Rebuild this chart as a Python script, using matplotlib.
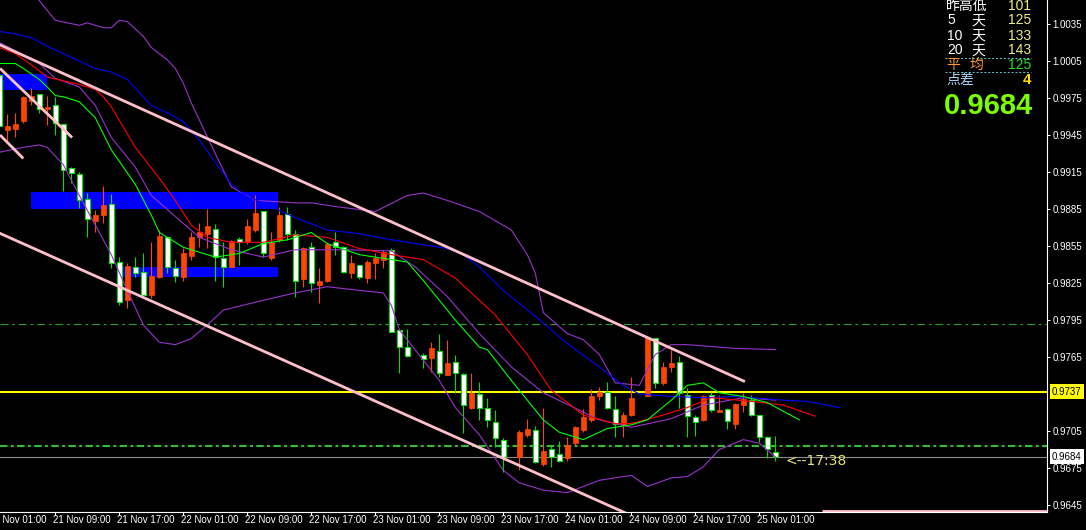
import matplotlib
matplotlib.use("Agg")
import matplotlib.pyplot as plt
from matplotlib.lines import Line2D

plt.rcParams['font.family'] = ['Liberation Sans', 'Noto Sans CJK SC', 'DejaVu Sans']

W, H = 1086, 530

# hourly candles, bar 0 = 21 Nov 02:00 ; None = no bar drawn
OPEN = [0.9994, 0.9949, 0.9950, 0.9956, 0.9973, 0.9978, 0.9966, 0.9969, 0.9954, 0.9918,
        0.9913, 0.9893, 0.9875, 0.9880, 0.9889, 0.9842, 0.9811, 0.9838, 0.9834, 0.9815,
        0.9830, 0.9862, 0.9837, 0.9830, 0.9847, 0.9862, 0.9865, 0.9869, 0.9845, 0.9838,
        0.9861, 0.9858, 0.9868, 0.9883, 0.9845, 0.9860, 0.9881, 0.9865, 0.9828, 0.9854,
        0.9823, 0.9827, 0.9858, 0.9854, 0.9833, 0.9840, 0.9829, 0.9841, 0.9844, 0.9852,
        0.9787, 0.9773, None, 0.9767, 0.9764, 0.9770, 0.9750, 0.9761, 0.9751, 0.9724,
        0.9735, 0.9724, 0.9712, 0.9698, None, 0.9684, 0.9702, 0.9706, 0.9678, 0.9690,
        0.9686, 0.9683, 0.9695, 0.9706, 0.9714, 0.9733, 0.9737, 0.9723, 0.9710, 0.9718,
        None, 0.9733, 0.9780, 0.9744, 0.9757, 0.9761, 0.9734, 0.9716, 0.9714, 0.9734,
        0.9720, 0.9723, 0.9711, 0.9726, 0.9730, 0.9718, 0.9700, 0.9688]
HIGH = [0.9995, 0.9962, 0.9963, 0.9977, 0.9983, 0.9978, 0.9977, 0.9976, 0.9954, 0.9919,
        0.9915, 0.9898, 0.9884, 0.9904, 0.9897, 0.9846, 0.9841, 0.9846, 0.9849, 0.9858,
        0.9868, 0.9862, 0.9844, 0.9853, 0.9866, 0.9874, 0.9885, 0.9873, 0.9858, 0.9860,
        0.9862, 0.9877, 0.9896, 0.9883, 0.9866, 0.9887, 0.9887, 0.9868, 0.9854, 0.9858,
        0.9837, 0.9858, 0.9866, 0.9855, 0.9848, 0.9840, 0.9844, 0.9849, 0.9852, 0.9853,
        0.9788, 0.9788, None, 0.9768, 0.9777, 0.9784, 0.9779, 0.9767, 0.9752, 0.9752,
        0.9745, 0.9732, 0.9722, 0.9699, None, 0.9706, 0.9715, 0.9709, 0.9724, 0.9693,
        0.9697, 0.9700, 0.9709, 0.9723, 0.9739, 0.9741, 0.9745, 0.9733, 0.9720, 0.9749,
        None, 0.9780, 0.9780, 0.9761, 0.9771, 0.9766, 0.9740, 0.9718, 0.9734, 0.9737,
        0.9734, 0.9724, 0.9728, 0.9736, 0.9734, 0.9718, 0.9701, 0.9701]
LOW = [0.9949, 0.9939, 0.9943, 0.9955, 0.9969, 0.9963, 0.9953, 0.9945, 0.9900, 0.9906,
       0.9886, 0.9862, 0.9866, 0.9874, 0.9837, 0.9807, 0.9805, 0.9830, 0.9814, 0.9813,
       0.9829, 0.9833, 0.9826, 0.9827, 0.9844, 0.9854, 0.9853, 0.9827, 0.9822, 0.9838,
       0.9840, 0.9857, 0.9866, 0.9846, 0.9844, 0.9858, 0.9860, 0.9814, 0.9822, 0.9818,
       0.9809, 0.9826, 0.9848, 0.9833, 0.9829, 0.9828, 0.9825, 0.9828, 0.9837, 0.9785,
       0.9752, 0.9765, None, 0.9756, 0.9753, 0.9749, 0.9750, 0.9736, 0.9703, 0.9723,
       0.9714, 0.9708, 0.9692, 0.9672, None, 0.9673, 0.9700, 0.9679, 0.9677, 0.9676,
       0.9680, 0.9681, 0.9694, 0.9704, 0.9712, 0.9730, 0.9723, 0.9700, 0.9700, 0.9717,
       None, 0.9733, 0.9740, 0.9742, 0.9753, 0.9724, 0.9700, 0.9701, 0.9713, 0.9720,
       0.9720, 0.9707, 0.9707, 0.9720, 0.9717, 0.9696, 0.9683, 0.9681]
CLOSE = [0.9952, 0.9952, 0.9954, 0.9976, 0.9977, 0.9966, 0.9968, 0.9955, 0.9917, 0.9914,
         0.9892, 0.9877, 0.9880, 0.9888, 0.9841, 0.9810, 0.9839, 0.9833, 0.9815, 0.9831,
         0.9863, 0.9838, 0.9831, 0.9849, 0.9862, 0.9866, 0.9871, 0.9846, 0.9838, 0.9859,
         0.9858, 0.9871, 0.9882, 0.9849, 0.9858, 0.9880, 0.9865, 0.9827, 0.9853, 0.9825,
         0.9827, 0.9857, 0.9854, 0.9834, 0.9841, 0.9830, 0.9842, 0.9845, 0.9850, 0.9785,
         0.9773, 0.9766, None, 0.9763, 0.9772, 0.9752, 0.9760, 0.9752, 0.9726, 0.9736,
         0.9724, 0.9714, 0.9699, 0.9684, None, 0.9704, 0.9707, 0.9680, 0.9689, 0.9684,
         0.9681, 0.9694, 0.9708, 0.9716, 0.9733, 0.9737, 0.9724, 0.9711, 0.9718, 0.9732,
         None, 0.9780, 0.9744, 0.9757, 0.9760, 0.9736, 0.9717, 0.9712, 0.9733, 0.9722,
         0.9722, 0.9713, 0.9727, 0.9731, 0.9718, 0.9700, 0.9690, 0.9684]

# Alligator lines (shifted forward) and Bollinger bands, read at sample bars
JAW_X = [0, 2, 4, 6, 8, 10, 12, 14, 16, 19, 21, 23, 25, 27, 29, 31, 33, 37, 41, 45, 49,
         56, 58, 60, 63, 67, 71, 75, 78, 80, 84, 88, 92, 98, 101, 105]
JAW_Y = [1.0029, 1.0027, 1.0024, 1.0017, 1.0011, 1.0005, 0.9999, 0.9996, 0.9990, 0.9969,
         0.9963, 0.9956, 0.9941, 0.9923, 0.9905, 0.9895, 0.9890, 0.9878, 0.9868, 0.9865,
         0.9860, 0.9853, 0.9848, 0.9838, 0.9819, 0.9798, 0.9776, 0.9757, 0.9742, 0.9735,
         0.9733, 0.9732, 0.9733, 0.9730, 0.9729, 0.9724]
TEETH_X = [0, 2, 4, 6, 8, 10, 12, 13, 14, 15, 17, 20, 22, 24, 26, 29, 33, 37, 41, 45, 49,
           53, 57, 62, 66, 69, 73, 77, 79, 83, 86, 89, 94, 98, 102]
TEETH_Y = [1.0016, 1.0011, 1.0002, 0.9992, 0.9989, 0.9986, 0.9982, 0.9976, 0.9968, 0.9957,
           0.9935, 0.9910, 0.9892, 0.9872, 0.9862, 0.9858, 0.9858, 0.9864, 0.9862, 0.9853,
           0.9848, 0.9844, 0.9829, 0.9799, 0.9767, 0.9738, 0.9718, 0.9711, 0.9711, 0.9718,
           0.9724, 0.9732, 0.9729, 0.9726, 0.9717]
LIPS_X = [0, 2, 3, 5, 6, 7, 8, 10, 12, 14, 17, 19, 20, 23, 27, 30, 33, 36, 39, 41, 45, 48,
          51, 53, 57, 60, 61, 64, 66, 68, 70, 73, 76, 79, 81, 84, 86, 88, 90, 93, 96, 100]
LIPS_Y = [1.0003, 1.0003, 0.9999, 0.9990, 0.9984, 0.9977, 0.9976, 0.9972, 0.9959, 0.9933,
          0.9905, 0.9880, 0.9866, 0.9854, 0.9846, 0.9849, 0.9857, 0.9860, 0.9866, 0.9857,
          0.9848, 0.9845, 0.9842, 0.9827, 0.9795, 0.9773, 0.9771, 0.9746, 0.9730, 0.9714,
          0.9704, 0.9698, 0.9707, 0.9710, 0.9714, 0.9730, 0.9742, 0.9744, 0.9736, 0.9733,
          0.9728, 0.9714]
BB_MID_X = [0, 3, 5, 7, 10, 12, 14, 17, 19, 25, 29, 33, 37, 43, 49, 52, 56, 60, 64, 68,
            75, 79, 84, 88, 93, 97]
BB_MID_Y = [1.0020, 1.0010, 1.0003, 0.9991, 0.9984, 0.9969, 0.9943, 0.9919, 0.9896, 0.9862,
            0.9852, 0.9846, 0.9852, 0.9852, 0.9851, 0.9838, 0.9814, 0.9784, 0.9757, 0.9736,
            0.9714, 0.9708, 0.9715, 0.9726, 0.9732, 0.9730]
BB_UP_X = [4, 5, 7, 10, 11, 13, 14, 15, 16, 18, 19, 21, 22, 23, 24, 27, 29, 32, 37, 39, 42,
           47, 51, 53, 56, 60, 64, 66, 67, 68, 71, 73, 75, 77, 80, 82, 84, 86, 92, 97]
BB_UP_Y = [1.0065, 1.0054, 1.0038, 1.0034, 1.0036, 1.0032, 1.0032, 1.0038, 1.0037, 1.0025,
           1.0016, 1.0006, 0.9999, 0.9987, 0.9971, 0.9930, 0.9903, 0.9892, 0.9890, 0.9890,
           0.9887, 0.9883, 0.9896, 0.9898, 0.9892, 0.9883, 0.9868, 0.9848, 0.9833, 0.9801,
           0.9784, 0.9779, 0.9767, 0.9744, 0.9742, 0.9767, 0.9775, 0.9775, 0.9772, 0.9771]
BB_LOW_X = [0, 3, 5, 6, 8, 10, 12, 14, 16, 18, 20, 22, 24, 26, 28, 33, 37, 41, 45, 48, 49,
            50, 55, 57, 60, 63, 65, 68, 71, 75, 79, 81, 84, 86, 88, 90, 93, 95, 97]
BB_LOW_Y = [0.9931, 0.9935, 0.9937, 0.9935, 0.9921, 0.9896, 0.9872, 0.9848, 0.9819, 0.9791,
            0.9777, 0.9775, 0.9780, 0.9791, 0.9803, 0.9811, 0.9817, 0.9822, 0.9819, 0.9817,
            0.9807, 0.9787, 0.9746, 0.9724, 0.9702, 0.9673, 0.9663, 0.9657, 0.9655, 0.9665,
            0.9669, 0.9660, 0.9667, 0.9668, 0.9676, 0.9690, 0.9698, 0.9695, 0.9684]

# drawn objects: trend lines (bar, price pairs), zones, levels
TRENDLINES = [((-5, 1.0033), (93.2, 0.9745)),
              ((-5, 0.9880), (78.8, 0.9637)),
              ((0.09, 0.9999), (9.1, 0.9943)),
              ((0.09, 0.9945), (3.0, 0.9926)),
              ((102.8, 0.9640), (132, 0.9640))]
ZONES = [(-3, 5.9, 0.99815, 0.99945),
         (4.0, 34.8, 0.98850, 0.98988),
         (15.3, 34.8, 0.98299, 0.98380)]
LEVEL_YELLOW = 0.9737
LEVEL_DASHDOT = 0.9693
LEVEL_DASHED = 0.9792
BID = 0.9684

PRICE_TICKS = [0.9645, 0.9675, 0.9705, 0.9765, 0.9795, 0.9825, 0.9855, 0.9885,
               0.9915, 0.9945, 0.9975, 1.0005, 1.0035]
TIME_LABELS = ["21 Nov 01:00", "21 Nov 09:00", "21 Nov 17:00", "22 Nov 01:00",
               "22 Nov 09:00", "22 Nov 17:00", "23 Nov 01:00", "23 Nov 09:00",
               "23 Nov 17:00", "24 Nov 01:00", "24 Nov 09:00", "24 Nov 17:00",
               "25 Nov 01:00"]
TIME_BARS = [-1, 7, 15, 23, 31, 39, 47, 55, 63, 71, 79, 87, 95]

UP_COL = '#FF4500'
DN_EDGE = '#00E000'
X_VIEW = (0.0875, 130.96)
Y_VIEW = (0.96393, 1.00545)

fig = plt.figure(figsize=(W / 100, H / 100), dpi=100, facecolor='black')
ax = fig.add_axes([0, 18 / H, 1047 / W, 512 / H], facecolor='black')

for x0, x1, lo, hi in ZONES:
    ax.fill_between([x0, x1], lo, hi, color='#0000FF', lw=0, zorder=1)

ax.axhline(LEVEL_DASHED, color='#2E9E2E', lw=0.8, ls=(0, (7, 3.5, 2.5, 3.5)), zorder=2)
ax.axhline(LEVEL_DASHDOT, color='#33BB33', lw=1.5, ls=(0, (3.6, 1.6, 1.4, 1.6)), zorder=2)
ax.axhline(LEVEL_YELLOW, color='#FFFF00', lw=1.5, zorder=2)
ax.axhline(BID, color='#8C8C8C', lw=0.8, zorder=2)

# candles
up_x, up_b, up_h, up_lo, up_hi = [], [], [], [], []
dn_x, dn_b, dn_h, dn_lo, dn_hi = [], [], [], [], []
for i, (o, h, l, c) in enumerate(zip(OPEN, HIGH, LOW, CLOSE)):
    if o is None:
        continue
    body = max(abs(c - o), 0.00003)
    if c > o:
        up_x.append(i); up_b.append(min(o, c)); up_h.append(body); up_lo.append(l); up_hi.append(h)
    else:
        dn_x.append(i); dn_b.append(min(o, c)); dn_h.append(body); dn_lo.append(l); dn_hi.append(h)

ax.vlines(up_x, up_lo, up_hi, color=UP_COL, lw=0.8, zorder=3)
ax.vlines(dn_x, dn_lo, dn_hi, color=DN_EDGE, lw=0.8, zorder=3)
ax.bar(up_x, up_h, bottom=up_b, width=0.66, color=UP_COL, edgecolor=UP_COL, lw=0.5, zorder=4)
ax.bar(dn_x, dn_h, bottom=dn_b, width=0.58, color='white', edgecolor=DN_EDGE, lw=0.8, zorder=4)

# indicators
ax.plot(BB_UP_X, BB_UP_Y, color='#9932CC', lw=0.8, zorder=5)
ax.plot(BB_MID_X, BB_MID_Y, color='#9932CC', lw=0.8, zorder=5)
ax.plot(BB_LOW_X, BB_LOW_Y, color='#9932CC', lw=0.8, zorder=5)
ax.plot(JAW_X, JAW_Y, color='#0000FF', lw=0.8, zorder=5)
ax.plot(TEETH_X, TEETH_Y, color='#FF0000', lw=0.8, zorder=5)
ax.plot(LIPS_X, LIPS_Y, color='#00FF00', lw=0.8, zorder=5)

for (xa, ya), (xb, yb) in TRENDLINES:
    ax.plot([xa, xb], [ya, yb], color='#FFC0CB', lw=2.0, zorder=6, solid_capstyle='butt')

# axes frame
for side in ['top', 'left']:
    ax.spines[side].set_visible(False)
for side in ['right', 'bottom']:
    ax.spines[side].set_color('white')
    ax.spines[side].set_linewidth(0.8)

ax.yaxis.tick_right()
ax.set_yticks(PRICE_TICKS)
ax.set_yticklabels([f"{p:.4f}" for p in PRICE_TICKS])
ax.tick_params(axis='y', colors='white', direction='out', length=2.5, width=0.7,
               pad=1.5, labelsize=7)
ax.set_xticks([b for b in TIME_BARS if b >= X_VIEW[0]])
ax.set_xticklabels([])
ax.tick_params(axis='x', colors='white', direction='out', length=2.5, width=0.7)

# view limits last, so nothing above can widen them
ax.set_xlim(*X_VIEW)
ax.set_ylim(*Y_VIEW)

for b, lab in zip(TIME_BARS, TIME_LABELS):
    ax.annotate(lab, xy=(b, 0), xycoords=('data', 'axes fraction'), xytext=(-2, -3),
                textcoords='offset pixels', ha='left', va='top', color='white',
                fontsize=7, annotation_clip=False)

ax.annotate(f"{LEVEL_YELLOW:.4f}", xy=(1, LEVEL_YELLOW), xycoords=('axes fraction', 'data'),
            xytext=(5, 0), textcoords='offset pixels', ha='left', va='center', fontsize=7,
            color='black', annotation_clip=False,
            bbox=dict(boxstyle='square,pad=0.25', fc='#FFFF00', ec='none'))
ax.annotate(f"{BID:.4f}", xy=(1, BID), xycoords=('axes fraction', 'data'),
            xytext=(5, 0), textcoords='offset pixels', ha='left', va='center', fontsize=7,
            color='black', annotation_clip=False,
            bbox=dict(boxstyle='square,pad=0.25', fc='white', ec='none'))

ax.annotate("<--17:38", xy=(len(CLOSE) - 1, BID), xytext=(10, -4), textcoords='offset pixels',
            ha='left', va='center', color='#E8E07A', fontsize=10, family='DejaVu Sans')

# info panel, top right
def fx(px):
    return px / W

def fy(py):
    return 1 - py / H

ROW_NAMES = ["5", "10", "20"]
ROW_VALUES = ["125", "133", "143"]
fig.text(fx(946), fy(6.5), "昨高低", color='white', fontsize=10, va='center')
fig.text(fx(1031), fy(6.5), "101", color='#EEEE88', fontsize=10, va='center', ha='right')
for k, (n, v) in enumerate(zip(ROW_NAMES, ROW_VALUES)):
    y = fy(20.5 + 15 * k)
    fig.text(fx(947), y, n, color='white', fontsize=10, va='center')
    fig.text(fx(971), y, "天", color='white', fontsize=10, va='center')
    fig.text(fx(1031), y, v, color='#EEEE88', fontsize=10, va='center', ha='right')
fig.text(fx(946), fy(65), "平", color='#FF9933', fontsize=10, va='center')
fig.text(fx(970), fy(65), "均", color='#FF9933', fontsize=10, va='center')
fig.text(fx(1031), fy(65), "125", color='#22DD22', fontsize=10, va='center', ha='right')
fig.text(fx(946), fy(80), "点差", color='#A8D0F0', fontsize=10, va='center')
fig.text(fx(1031), fy(80), "4", color='#FFD700', fontsize=11, va='center', ha='right',
         fontweight='bold')
fig.text(fx(944), fy(106), f"{BID:.4f}", color='#7CFC00', fontsize=21, va='center',
         fontweight='bold')
for yy in (57.5, 72):
    fig.add_artist(Line2D([fx(945), fx(1031)], [fy(yy), fy(yy)], color='#66CCCC',
                          lw=0.7, ls=(0, (2, 2))))

fig.savefig("out.png", dpi=100, facecolor='black')
